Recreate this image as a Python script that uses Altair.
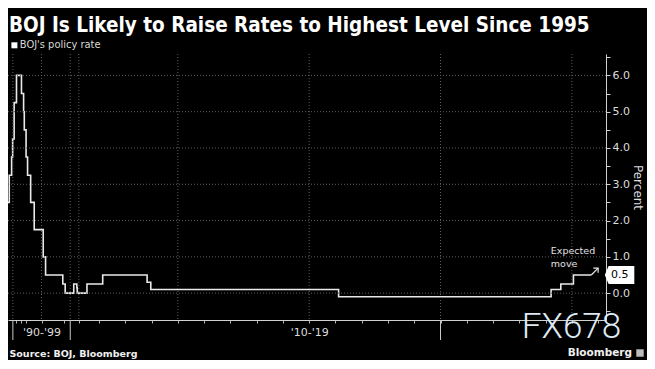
import altair as alt
import pandas as pd

# ---------------- data ----------------
step_years = [1989.0, 1989.37, 1989.78, 1989.96, 1990.22, 1990.63, 1991.5, 1991.87,
              1991.99, 1992.3, 1992.56, 1993.1, 1993.72, 1995.29, 1995.7, 1998.7,
              1999.12, 2000.61, 2001.15, 2001.22, 2006.54, 2007.14, 2008.83, 2008.97,
              2016.12, 2024.21, 2024.58, 2025.06, 2025.74]
step_rates = [2.5, 3.25, 3.75, 4.25, 5.25, 6.0, 5.5, 5.0,
              4.5, 3.75, 3.25, 2.5, 1.75, 1.0, 0.5, 0.25,
              0.0, 0.25, 0.15, 0.0, 0.25, 0.5, 0.3, 0.1,
              -0.1, 0.1, 0.25, 0.5, 0.5]

arrow_years = [2025.74, 2026.0]
arrow_rates = [0.5, 0.69]

last_value = [0.5]
last_label = ["0.5"]

grid_rates = [0, 1, 2, 3, 4, 5, 6]
grid_years = [1990, 1995, 2000, 2002, 2010, 2015, 2020, 2025]
major_tick_years = [1990, 2000, 2020]
tick_years = [1990.6, 1991.4, 1992.3, 1995, 1998.9, 2002,
              2007, 2008, 2009, 2010, 2011, 2012, 2013, 2014, 2015, 2016,
              2017, 2018, 2019, 2020, 2021, 2022, 2023, 2024, 2025, 2026]
y_tick_values = [-0.5, 0, 0.5, 1, 1.5, 2, 2.5, 3, 3.5, 4, 4.5, 5, 5.5, 6, 6.5]

# piecewise (broken) time axis as drawn by the original
x_domain = [1989.15, 2001.3, 2006.5, 2026.3]
x_range = [0, 69.7, 77.9, 598]
y_domain = [-0.74, 6.59]

title_text = "BOJ Is Likely to Raise Rates to Highest Level Since 1995"
legend_text = "BOJ's policy rate"
source_text = "Source: BOJ, Bloomberg"
brand_text = "Bloomberg"
watermark_text = "FX678"
note_text = "Expected\nmove"
note_year = [2024.2]
note_rate = [1.29]

# ---------------- layout ----------------
W, H = 598, 266
FONT = "DejaVu Sans"
NARROW = "Liberation Sans Narrow, DejaVu Sans Condensed, Liberation Sans"

xscale = alt.Scale(type="linear", domain=x_domain, range=x_range, zero=False, nice=False)
yscale = alt.Scale(domain=y_domain, zero=False, nice=False)

x_axis = alt.Axis(
    values=tick_years,
    labelExpr="datum.value == 1995 ? \"'90-'99\" : datum.value == 2015 ? \"'10-'19\" : ''",
    title=None, grid=False, tickSize=3, tickColor="#b5b5b5", domainColor="#d0d0d0",
    labelColor="#dcdcdc", labelFont=FONT, labelFontSize=11, labelPadding=3,
    labelOverlap=False, labelFlush=False,
)
y_axis = alt.Axis(
    orient="right", values=y_tick_values,
    labelExpr="datum.value % 1 == 0 ? format(datum.value, '.1f') : ''",
    title="Percent", titleFont=FONT, titleFontSize=12, titleFontWeight="normal",
    titleColor="#dcdcdc", titlePadding=1, grid=False, tickSize=4,
    tickColor="#d0d0d0", domainColor="#d0d0d0", labelColor="#dcdcdc",
    labelFont=FONT, labelFontSize=11, labelPadding=2, labelOverlap=False,
)


def X(field="year"):
    return alt.X(f"{field}:Q", scale=xscale, axis=x_axis)


def Y(field="rate"):
    return alt.Y(f"{field}:Q", scale=yscale, axis=y_axis)


steps = pd.DataFrame({"year": step_years, "rate": step_rates})
line = alt.Chart(steps).mark_line(
    interpolate="step-after", color="#e9e9e9", strokeWidth=1.6, clip=True
).encode(x=X(), y=Y())

vgrid = alt.Chart(pd.DataFrame({"year": grid_years})).mark_rule(
    color="#5e5e5e", strokeDash=[1, 2], strokeWidth=1
).encode(x=X())

hgrid = alt.Chart(pd.DataFrame({"rate": grid_rates})).mark_rule(
    color="#5e5e5e", strokeDash=[1, 2], strokeWidth=1
).encode(y=Y())

major = alt.Chart(pd.DataFrame({"year": major_tick_years})).mark_rule(
    color="#c8c8c8", strokeWidth=1
).encode(x=X(), y=alt.value(H), y2=alt.value(H + 20))

arrow_df = pd.DataFrame({"year": arrow_years, "rate": arrow_rates})
arrow_line = alt.Chart(arrow_df).mark_line(color="#e9e9e9", strokeWidth=1.2).encode(x=X(), y=Y())
arrow_head = alt.Chart(arrow_df.tail(1)).mark_point(
    shape="M -1 0 L 0 0 L 0 1", filled=False, color="#e9e9e9", strokeWidth=1.2, size=90, opacity=1
).encode(x=X(), y=Y())

note = alt.Chart(pd.DataFrame({"year": note_year, "rate": note_rate, "t": [note_text]})).mark_text(
    align="left", baseline="top", lineBreak="\n", lineHeight=12.5, font=FONT, fontSize=9.5, color="#e0e0e0"
).encode(x=X(), y=Y(), text="t:N")

tag_df = pd.DataFrame({"rate": last_value, "label": last_label})
tag = alt.Chart(tag_df).mark_point(
    shape="M -1.6 0 L -1.18 -1 L 1.66 -1 L 1.66 1 L -1.18 1 Z", filled=True, color="#ffffff", size=328, opacity=1
).encode(x=alt.value(611.3), y=Y())
tag_text = alt.Chart(tag_df).mark_text(
    align="left", baseline="middle", font=FONT, fontSize=11, color="#000000"
).encode(x=alt.value(603), y=Y(), text="label:N")


def label(text, x, y, **kw):
    return alt.Chart(pd.DataFrame({"t": [text]})).mark_text(**kw).encode(
        x=alt.value(x), y=alt.value(y), text="t:N")


title = label(title_text, 1, -22, align="left", baseline="alphabetic", font=NARROW,
              fontSize=20.5, fontWeight="bold", color="#ffffff")
legend_sq = alt.Chart(pd.DataFrame({"t": [legend_text]})).mark_point(
    shape="square", filled=True, color="#ffffff", size=36, opacity=1
).encode(x=alt.value(6.4), y=alt.value(-8.7))
legend_tx = label(legend_text, 11.8, -8.7, align="left", baseline="middle", font=NARROW,
                  fontSize=11, color="#d8d8d8")
source = label(source_text, 1.5, 299.5, align="left", baseline="middle", font=FONT,
               fontSize=9.5, fontWeight="bold", color="#f0f0f0")
brand = label(brand_text, 624, 299, align="right", baseline="middle", font=FONT,
              fontSize=10.5, fontWeight="bold", color="#f0f0f0")
brand_icon = alt.Chart(pd.DataFrame({"t": [brand_text]})).mark_point(
    shape="square", filled=True, color="#bdbdbd", size=55, opacity=1
).encode(x=alt.value(632), y=alt.value(299))
watermark = label(watermark_text, 563.5, 284, align="center", baseline="alphabetic", font="Roboto",
                  fontSize=35, fontWeight=300, color="#dde9f4")

chart = alt.layer(
    line, hgrid, vgrid, major, arrow_line, arrow_head, note, tag, tag_text,
    title, legend_sq, legend_tx, source, brand, brand_icon, watermark,
).properties(
    width=W, height=H,
    autosize=alt.AutoSizeParams(type="none"),
    padding={"left": 0, "top": 46, "right": 41, "bottom": 40},
    background="#000000",
).configure_view(stroke=None)

chart.save("out.html", embed_options={"renderer": "svg", "actions": False})
